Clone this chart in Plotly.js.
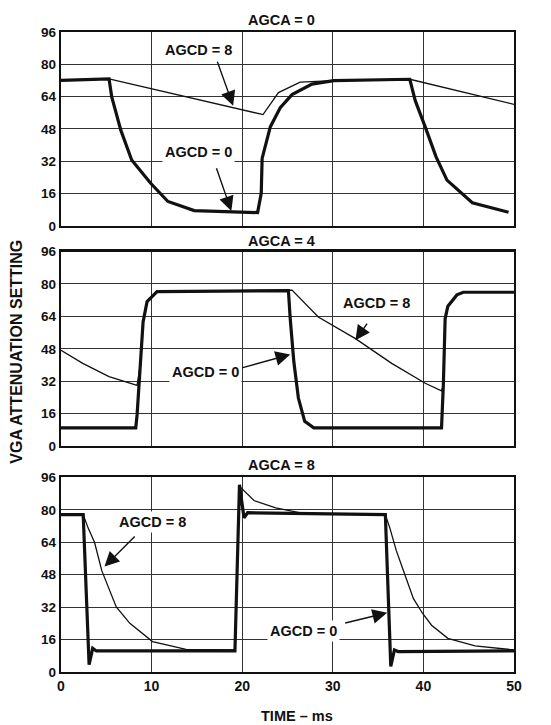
<!DOCTYPE html>
<html>
<head>
<meta charset="utf-8">
<script src="https://cdn.plot.ly/plotly-3.0.1.min.js"></script>
<style>
  html, body { margin: 0; padding: 0; background: #fff; }
  #chart { width: 551px; height: 725px; }
</style>
</head>
<body>
<div id="chart"></div>
<script>
// ---- Data ----
const panelTitles = ['AGCA = 0', 'AGCA = 4', 'AGCA = 8'];
const yTicks = [0, 16, 32, 48, 64, 80, 96];
const xTicks = [0, 10, 20, 30, 40, 50];

// Panel 1 (AGCA = 0)
const p1_agcd0_x = [0, 5.3, 5.6, 6.6, 7.8, 9.9, 11.8, 14.7, 21.7, 22.1, 22.2, 23.1, 24.2, 25.5, 27.7, 30.1, 38.5, 39.1, 40.2, 41.4, 42.6, 45.4, 49.4];
const p1_agcd0_y = [72.1, 72.8, 63.9, 47.4, 32.6, 21.1, 12.1, 7.6, 6.6, 16.1, 33.4, 49, 58.5, 65, 70.2, 71.9, 72.6, 62, 49, 34.2, 22.7, 11.5, 6.8];
const p1_agcd8_x = [0, 5.3, 22.3, 24.0, 26.4, 30.1, 38.5, 50];
const p1_agcd8_y = [72.1, 72.8, 55.1, 66, 71.2, 71.9, 72.6, 60.2];

// Panel 2 (AGCA = 4)
const p2_agcd0_x = [0, 8.25, 8.4, 8.8, 9.06, 9.5, 10.6, 25.1, 25.3, 25.7, 26.2, 26.9, 27.9, 42.0, 42.2, 42.4, 42.7, 43.7, 44.4, 50];
const p2_agcd0_y = [9, 9, 15.5, 41.6, 61.2, 71.3, 76.2, 76.7, 62.9, 41.6, 23.7, 12.2, 9, 9, 30, 62.9, 69, 74.6, 75.9, 75.9];
const p2_agcd8_x = [0, 2.4, 5.3, 8.4, 8.8, 9.06, 9.5, 10.6, 25.5, 28.4, 32.5, 36.5, 40.2, 42.0, 42.2, 42.4, 42.7, 43.7, 44.4, 50];
const p2_agcd8_y = [47.3, 40.8, 34.3, 29.9, 41.6, 61.2, 71.3, 76.2, 77, 63.7, 53, 40.8, 31, 27.3, 30, 62.9, 69, 74.6, 75.9, 75.9];

// Panel 3 (AGCA = 8)
const p3_agcd0_x = [0, 2.45, 3.1, 3.5, 3.9, 19.2, 19.7, 20.2, 20.6, 35.8, 36.4, 36.8, 37.2, 50];
const p3_agcd0_y = [77.7, 77.7, 3.6, 11.7, 10.4, 10.4, 92.4, 76.1, 78.6, 77.7, 2.8, 10.9, 10.1, 10.4];
const p3_agcd8_x = [0, 2.45, 3.0, 3.7, 4.5, 5.2, 6.1, 7.6, 10.1, 13.8, 19.2, 19.7, 21.3, 23.7, 26.3, 28.5, 35.8, 36.3, 37.0, 37.8, 38.9, 39.9, 40.9, 42.7, 45.7, 50];
const p3_agcd8_y = [77.7, 77.7, 71, 64, 50, 42, 32.1, 24, 15, 11.2, 10.9, 91.6, 84.6, 81, 78.6, 77.9, 77.7, 71, 60, 50, 36.2, 29, 23.1, 16.6, 12.9, 10.9];

// Curve labels
const labelPanel = [1, 1, 2, 2, 3, 3];
const labelText = ['AGCD = 8', 'AGCD = 0', 'AGCD = 8', 'AGCD = 0', 'AGCD = 8', 'AGCD = 0'];
const labelTextX = [15.2, 15.2, 34.85, 15.96, 10.1, 26.8];
const labelTextY = [87.3, 36.7, 70.7, 36.4, 74, 20.4];
const labelTailX = [17.2, 17.1, 33.9, 19.8, 8.3, 31.2];
const labelTailY = [82, 29.3, 61.2, 38.4, 67.6, 24];
const labelTipX = [19.0, 18.8, 32.5, 25.3, 4.8, 36.0];
const labelTipY = [59.5, 7.4, 52.2, 45.2, 52, 29.2];

// ---- Build ----
const FONT = 'Liberation Sans, Arial, Helvetica, sans-serif';
const INK = '#111';
const xs = [[p1_agcd0_x, p1_agcd8_x], [p2_agcd0_x, p2_agcd8_x], [p3_agcd0_x, p3_agcd8_x]];
const ys = [[p1_agcd0_y, p1_agcd8_y], [p2_agcd0_y, p2_agcd8_y], [p3_agcd0_y, p3_agcd8_y]];

const traces = [];
for (let p = 0; p < 3; p++) {
  const ax = p === 0 ? '' : String(p + 1);
  traces.push({ x: xs[p][1], y: ys[p][1], type: 'scatter', mode: 'lines',
    line: { color: INK, width: 1.3 }, xaxis: 'x' + ax, yaxis: 'y' + ax, hoverinfo: 'skip' });
  traces.push({ x: xs[p][0], y: ys[p][0], type: 'scatter', mode: 'lines',
    line: { color: INK, width: 3.2 }, xaxis: 'x' + ax, yaxis: 'y' + ax, hoverinfo: 'skip' });
}

const domains = [[0.697, 1.0], [0.353, 0.657], [0.0, 0.304]];
const layout = {
  width: 551, height: 725,
  margin: { l: 61, r: 37, t: 32, b: 53 },
  paper_bgcolor: '#fff', plot_bgcolor: '#fff',
  showlegend: false,
  font: { family: FONT, size: 14, color: INK, weight: 'bold' },
  annotations: []
};
for (let p = 0; p < 3; p++) {
  const ax = p === 0 ? '' : String(p + 1);
  layout['xaxis' + ax] = {
    domain: [0, 1], range: [0, 50], anchor: 'y' + ax,
    tickvals: xTicks, ticktext: xTicks.map(String),
    showticklabels: p === 2, ticks: '', ticklabeloverflow: 'allow',
    showgrid: true, gridcolor: '#333', gridwidth: 1,
    showline: true, linecolor: INK, linewidth: 2.2, mirror: true,
    zeroline: false, fixedrange: true,
    tickfont: { family: FONT, size: 14, color: INK, weight: 'bold' }
  };
  layout['yaxis' + ax] = {
    domain: domains[p], range: [0, 96], anchor: 'x' + ax,
    tickvals: yTicks, ticktext: yTicks.map(String), ticks: '',
    showgrid: true, gridcolor: '#333', gridwidth: 1,
    showline: true, linecolor: INK, linewidth: 2.2, mirror: true,
    zeroline: false, fixedrange: true,
    tickfont: { family: FONT, size: 13.5, color: INK, weight: 'bold' }
  };
}

const titleY = [1.0195, 0.673, 0.3228];
for (let p = 0; p < 3; p++) {
  layout.annotations.push({ xref: 'paper', yref: 'paper', x: 0.487, y: titleY[p],
    text: panelTitles[p], showarrow: false, xanchor: 'center', yanchor: 'middle',
    font: { family: FONT, size: 14.5, color: INK, weight: 'bold' } });
}
layout.annotations.push({ xref: 'paper', yref: 'paper', x: 0.52, y: -0.068,
  text: 'TIME – ms', showarrow: false, xanchor: 'center', yanchor: 'middle',
  font: { family: FONT, size: 14.5, color: INK, weight: 'bold' } });
layout.annotations.push({ xref: 'paper', yref: 'paper', x: -0.1, y: 0.5,
  text: 'VGA ATTENUATION SETTING', textangle: -90, showarrow: false,
  xanchor: 'center', yanchor: 'middle',
  font: { family: FONT, size: 16, color: INK, weight: 'bold' } });

for (let i = 0; i < labelText.length; i++) {
  const ax = labelPanel[i] === 1 ? '' : String(labelPanel[i]);
  layout.annotations.push({ xref: 'x' + ax, yref: 'y' + ax,
    x: labelTipX[i], y: labelTipY[i], ax: labelTailX[i], ay: labelTailY[i],
    axref: 'x' + ax, ayref: 'y' + ax, text: '', showarrow: true,
    arrowhead: 2, arrowsize: 2.1, arrowwidth: 1.4, arrowcolor: INK, standoff: 0, startstandoff: 0 });
  layout.annotations.push({ xref: 'x' + ax, yref: 'y' + ax,
    x: labelTextX[i], y: labelTextY[i], text: labelText[i], showarrow: false,
    xanchor: 'center', yanchor: 'middle', bgcolor: '#fff', borderpad: 2,
    font: { family: FONT, size: 14.5, color: INK, weight: 'bold' } });
}

Plotly.newPlot('chart', traces, layout, { staticPlot: true, displayModeBar: false });
</script>
</body>
</html>
